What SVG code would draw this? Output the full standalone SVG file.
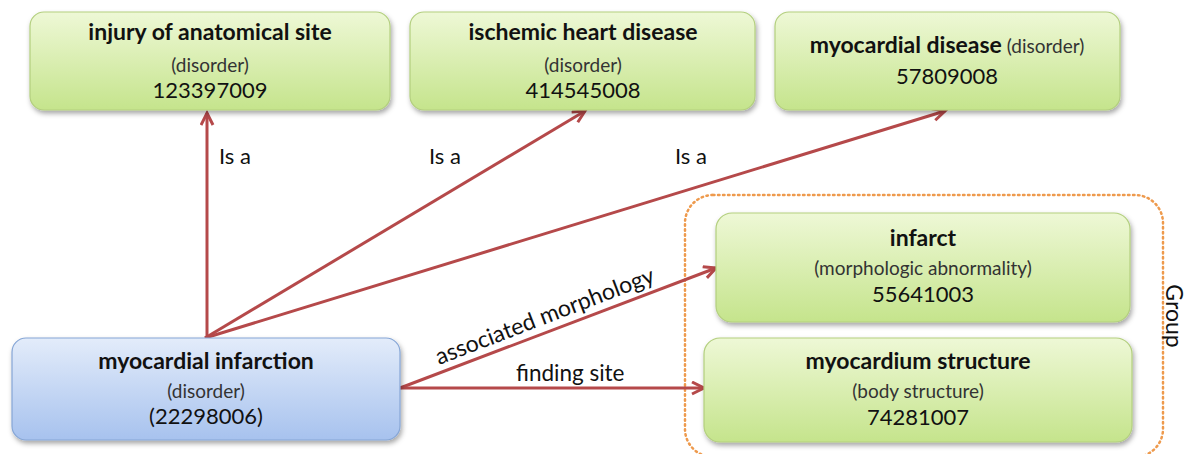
<svg xmlns="http://www.w3.org/2000/svg" width="1188" height="454" viewBox="0 0 1188 454">
<style>
text{font-family:Lato,"Open Sans","Liberation Sans",sans-serif;fill:#111;text-anchor:middle}
.t{font-weight:bold;font-size:23px}
.s{font-size:19px;fill:#333}
.n{font-size:22px}
.lbl{font-size:22px;text-anchor:start}
.g{fill:url(#gg);stroke:#b3cf7e;stroke-width:1.2;filter:url(#sh)}
.b{fill:url(#bg);stroke:#86a6d6;stroke-width:1.2;filter:url(#sh)}
.c{stroke:#b5494a;stroke-width:3;fill:none;marker-end:url(#ah)}
</style>
<defs>
<linearGradient id="gg" x1="0" y1="0" x2="0" y2="1"><stop offset="0" stop-color="#eef8d6"/><stop offset="1" stop-color="#c5e48c"/></linearGradient>
<linearGradient id="bg" x1="0" y1="0" x2="0" y2="1"><stop offset="0" stop-color="#e3ecfa"/><stop offset="1" stop-color="#a7c2ee"/></linearGradient>
<filter id="sh" x="-10%" y="-10%" width="120%" height="130%"><feDropShadow dx="1.5" dy="3" stdDeviation="2.5" flood-color="#000" flood-opacity="0.35"/></filter>
<marker id="ah" markerUnits="userSpaceOnUse" markerWidth="18" markerHeight="18" refX="13" refY="7" orient="auto"><path d="M1,1 L13,7 L1,13" fill="none" stroke="#b5494a" stroke-width="3"/></marker>
</defs>
<g id="group-frame">
<rect x="685" y="195" width="478" height="262" rx="28" fill="none" stroke="#ee9a4d" stroke-width="2.5" stroke-dasharray="1.5 3.5" stroke-linecap="round"/>
<text class="lbl" style="text-anchor:middle;font-size:23px" transform="translate(1166,316) rotate(90)">Group</text>
</g>
<g id="connectors">
<line class="c" x1="207" y1="338" x2="207" y2="113"/>
<line class="c" x1="205" y1="338" x2="585" y2="111"/>
<line class="c" x1="205" y1="338" x2="945" y2="111"/>
<line class="c" x1="400" y1="388" x2="716" y2="268"/>
<line class="c" x1="400" y1="388" x2="704" y2="388"/>
<text class="lbl" x="219" y="164">Is a</text>
<text class="lbl" x="429" y="164">Is a</text>
<text class="lbl" x="675" y="164">Is a</text>
<text class="lbl" style="font-size:23px" transform="translate(439,365) rotate(-21)">associated morphology</text>
<text class="lbl" style="font-size:22.5px" x="516" y="381">finding site</text>
</g>
<g id="injury">
<rect class="g" x="30" y="12" width="360" height="98" rx="14"/>
<text class="t" x="210" y="40">injury of anatomical site</text>
<text class="s" x="210" y="72">(disorder)</text>
<text class="n" x="210" y="98">123397009</text>
</g>
<g id="ischemic">
<rect class="g" x="410" y="12" width="345" height="98" rx="14"/>
<text class="t" x="583" y="40">ischemic heart disease</text>
<text class="s" x="583" y="72">(disorder)</text>
<text class="n" x="583" y="98">414545008</text>
</g>
<g id="myocardial-disease">
<rect class="g" x="775" y="12" width="345" height="98" rx="14"/>
<text x="947" y="53"><tspan class="t">myocardial disease</tspan><tspan class="s"> (disorder)</tspan></text>
<text class="n" x="947" y="84">57809008</text>
</g>
<g id="myocardial-infarction">
<rect class="b" x="12" y="338" width="388" height="102" rx="14"/>
<text class="t" x="206" y="369">myocardial infarction</text>
<text class="s" x="206" y="398">(disorder)</text>
<text class="n" x="206" y="424">(22298006)</text>
</g>
<g id="infarct">
<rect class="g" x="716" y="213" width="414" height="109" rx="16"/>
<text class="t" x="923" y="246">infarct</text>
<text class="s" x="923" y="275">(morphologic abnormality)</text>
<text class="n" x="923" y="302">55641003</text>
</g>
<g id="myocardium-structure">
<rect class="g" x="704" y="338" width="428" height="104" rx="16"/>
<text class="t" x="918" y="369">myocardium structure</text>
<text class="s" x="918" y="398">(body structure)</text>
<text class="n" x="918" y="425">74281007</text>
</g>
</svg>
